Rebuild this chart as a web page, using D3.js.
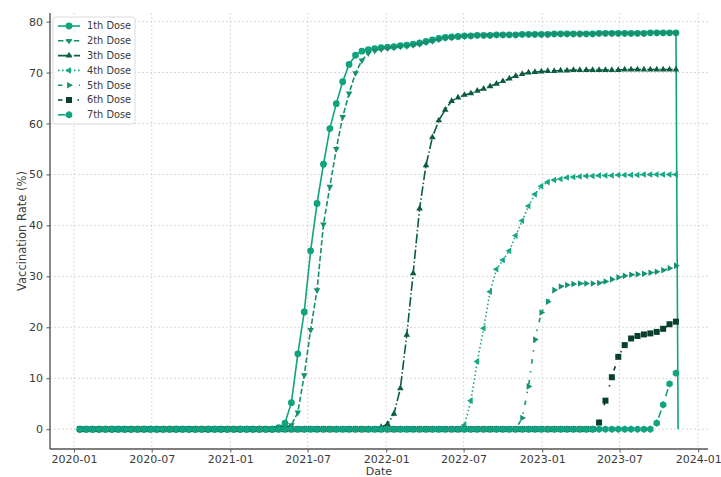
<!DOCTYPE html>
<html>
<head>
<meta charset="utf-8">
<script src="https://cdn.jsdelivr.net/npm/d3@7"></script>
<style>
  body { margin: 0; background: #fff; }
  svg { display: block; }
  text { font-family: "DejaVu Sans", sans-serif; }
</style>
</head>
<body>
<svg id="chart" width="721" height="477"></svg>
<script>
// Sampling: one observation every 15 days starting mid-January 2020
const firstDate = "2020-01-15";
const stepDays = 15;
// closing record where the 1st-dose column drops back to zero
const closeDate = "2023-11-15";
const closeValue = 0;

const seriesNames = ["1th Dose", "2th Dose", "3th Dose", "4th Dose", "5th Dose", "6th Dose", "7th Dose"];

const dose1 = [
  0,0,0,0,0,0,0,0,0,0, 0,0,0,0,0,0,0,0,0,0, 0,0,0,0,0,0,0,0,0,0, 0,
  0.3,1.2,5.2,14.8,23.0,35.0,44.3,52.0,59.0,63.9,
  68.2,71.6,73.4,74.2,74.5,74.7,74.9,75.0,75.1,75.3,
  75.4,75.6,75.8,76.1,76.4,76.7,76.9,77.0,77.1,77.2,
  77.2,77.3,77.3,77.3,77.4,77.4,77.4,77.4,77.5,77.5,
  77.5,77.5,77.5,77.6,77.6,77.6,77.6,77.6,77.6,77.6,
  77.7,77.7,77.7,77.7,77.7,77.7,77.7,77.7,77.8,77.8,77.8,77.8,77.8
];
const dose2 = [
  0,0,0,0,0,0,0,0,0,0, 0,0,0,0,0,0,0,0,0,0, 0,0,0,0,0,0,0,0,0,0, 0,0,
  0.3,0.8,3.3,10.6,19.5,27.3,40.2,47.6,55.0,61.3,
  65.9,69.9,72.4,73.8,74.3,74.6,74.8,74.9,75.1,75.2,
  75.4,75.6,75.9,76.2,76.5,76.8,76.9,77.0,77.1,77.2,
  77.3,77.3,77.3,77.4,77.4,77.4,77.4,77.5,77.5,
  77.5,77.5,77.5,77.6,77.6,77.6,77.6,77.6,77.6,77.6,
  77.7,77.7,77.7,77.7,77.7,77.7,77.7,77.7,77.8,77.8,77.8,77.8,77.8
];
const dose3 = [
  0,0,0,0,0,0,0,0,0,0, 0,0,0,0,0,0,0,0,0,0, 0,0,0,0,0,0,0,0,0,0,
  0,0,0,0,0,0,0,0,0,0, 0,0,0,0,0,0,0,
  0.4,1.0,3.0,8.0,18.5,30.6,43.3,51.8,57.3,60.6,
  62.7,64.4,65.1,65.6,65.9,66.4,66.8,67.3,67.8,68.3,
  68.8,69.3,69.7,70.0,70.1,70.2,
  70.3,70.3,70.4,70.4,70.5,70.5,70.5,70.5,70.5,70.5,70.5,
  70.5,70.6,70.6,70.6,70.6,70.6,70.6,70.6,70.6,70.6
];
const dose4 = [
  0,0,0,0,0,0,0,0,0,0, 0,0,0,0,0,0,0,0,0,0, 0,0,0,0,0,0,0,0,0,0,
  0,0,0,0,0,0,0,0,0,0, 0,0,0,0,0,0,0,0,0,0, 0,0,0,0,0,0,0,0,0,0,
  0.8,5.6,13.3,19.8,27.0,31.4,33.2,35.0,38.0,40.9,
  43.8,46.1,47.7,48.5,48.9,49.1,49.4,49.5,49.6,49.7,
  49.7,49.8,49.8,49.8,49.9,49.9,49.9,49.9,50.0,50.0,
  50.0,50.0,50.0,50.0
];
const dose5 = [
  0,0,0,0,0,0,0,0,0,0, 0,0,0,0,0,0,0,0,0,0, 0,0,0,0,0,0,0,0,0,0,
  0,0,0,0,0,0,0,0,0,0, 0,0,0,0,0,0,0,0,0,0, 0,0,0,0,0,0,0,0,0,0,
  0,0,0,0,0,0,0,0,0,
  2.2,8.4,17.6,22.9,25.0,27.3,28.0,28.3,28.5,28.6,
  28.6,28.6,28.7,29.0,29.4,29.8,30.1,30.3,30.4,30.5,
  30.7,30.9,31.2,31.6,32.1
];
const dose6 = [
  0,0,0,0,0,0,0,0,0,0, 0,0,0,0,0,0,0,0,0,0, 0,0,0,0,0,0,0,0,0,0,
  0,0,0,0,0,0,0,0,0,0, 0,0,0,0,0,0,0,0,0,0, 0,0,0,0,0,0,0,0,0,0,
  0,0,0,0,0,0,0,0,0,0, 0,0,0,0,0,0,0,0,0,0, 0,
  1.3,5.6,10.2,14.2,16.5,17.8,18.3,18.6,18.8,19.1,
  19.7,20.6,21.1
];
const dose7 = [
  0,0,0,0,0,0,0,0,0,0, 0,0,0,0,0,0,0,0,0,0, 0,0,0,0,0,0,0,0,0,0,
  0,0,0,0,0,0,0,0,0,0, 0,0,0,0,0,0,0,0,0,0, 0,0,0,0,0,0,0,0,0,0,
  0,0,0,0,0,0,0,0,0,0, 0,0,0,0,0,0,0,0,0,0, 0,0,0,0,0,0,0,0,0,0,
  1.2,4.8,8.9,11.0
];

const yTicks = [0, 10, 20, 30, 40, 50, 60, 70, 80];
const xTickLabels = ["2020-01","2020-07","2021-01","2021-07","2022-01","2022-07","2023-01","2023-07","2024-01"];

// ---- styling ----
const colors = ["#10a37f", "#17906f", "#0c5b44", "#14a884", "#139274", "#083f2f", "#10a37f"];
const dashes = [null, "5.5,2.4", "9.6,2.4,1.5,2.4", "1.5,2.5", "4.5,7.5,1.5,7.5", "4.5,15,1.5,15", "7.5,15"];
const markerKinds = ["circle", "down", "up", "left", "right", "square", "hexagon"];

const W = 721, H = 477;
const plot = { left: 50, right: 708, top: 13, bottom: 449 };

const parse = d3.utcParse("%Y-%m-%d");
const start = parse(firstDate);
const dates = dose1.map((_, i) => d3.utcDay.offset(start, stepDays * i));
const closeD = parse(closeDate);

const allSeries = [dose1, dose2, dose3, dose4, dose5, dose6, dose7];

// 5% margins around the data extent
const tMin = +dates[0], tMax = +closeD;
const tPad = (tMax - tMin) * 0.05;
const x = d3.scaleUtc().domain([new Date(tMin - tPad), new Date(tMax + tPad)]).range([plot.left, plot.right]);
const vMax = d3.max(allSeries, s => d3.max(s));
const vPad = vMax * 0.05;
const y = d3.scaleLinear().domain([-vPad, vMax + vPad]).range([plot.bottom, plot.top]);

const svg = d3.select("#chart");
svg.append("rect").attr("width", W).attr("height", H).attr("fill", "#fff");

const xTickDates = xTickLabels.map(s => parse(s + "-01"));

// grid
const grid = svg.append("g").attr("stroke", "#d6d6d6").attr("stroke-width", 0.9).attr("stroke-dasharray", "2,2");
grid.selectAll("line.gx").data(xTickDates).join("line")
  .attr("x1", d => x(d)).attr("x2", d => x(d))
  .attr("y1", plot.top).attr("y2", plot.bottom);
grid.selectAll("line.gy").data(yTicks).join("line")
  .attr("x1", plot.left).attr("x2", plot.right)
  .attr("y1", d => y(d)).attr("y2", d => y(d));

// axes
const fmt = d3.utcFormat("%Y-%m");
const xAxis = d3.axisBottom(x).tickValues(xTickDates).tickFormat(fmt).tickSize(3.5).tickPadding(3);
const yAxis = d3.axisLeft(y).tickValues(yTicks).tickFormat(d3.format("d")).tickSize(3.5).tickPadding(3.5);

const gx = svg.append("g").attr("transform", `translate(0,${plot.bottom})`).call(xAxis);
const gy = svg.append("g").attr("transform", `translate(${plot.left},0)`).call(yAxis);
gx.select(".domain").attr("d", `M${plot.left},0H${plot.right}`);
gy.select(".domain").attr("d", `M0,${plot.top}V${plot.bottom}`);
[gx, gy].forEach(g => {
  g.select(".domain").attr("stroke", "#555").attr("stroke-width", 1.4);
  g.selectAll(".tick line").attr("stroke", "#555").attr("stroke-width", 1);
  g.selectAll(".tick text").attr("fill", "#3a3a3a").attr("font-size", 11)
    .attr("font-family", "DejaVu Sans, sans-serif");
});

svg.append("text").attr("x", (plot.left + plot.right) / 2).attr("y", 475)
  .attr("text-anchor", "middle").attr("font-size", 11).attr("fill", "#3a3a3a").text("Date");
svg.append("text").attr("transform", `translate(26,${(plot.top + plot.bottom) / 2}) rotate(-90)`)
  .attr("text-anchor", "middle").attr("font-size", 11.5).attr("fill", "#3a3a3a").text("Vaccination Rate (%)");

// marker shapes
function markerPath(kind) {
  const r = 3.8;
  switch (kind) {
    case "circle": return d3.symbol(d3.symbolCircle, Math.PI * 3.4 * 3.4)();
    case "square": return "M-3,-3H3V3H-3Z";
    case "up": return `M0,${-r}L${r * 0.87},${r * 0.5}L${-r * 0.87},${r * 0.5}Z`;
    case "down": return `M0,${r}L${r * 0.87},${-r * 0.5}L${-r * 0.87},${-r * 0.5}Z`;
    case "left": return `M${-r},0L${r * 0.5},${-r * 0.87}L${r * 0.5},${r * 0.87}Z`;
    case "right": return `M${r},0L${-r * 0.5},${-r * 0.87}L${-r * 0.5},${r * 0.87}Z`;
    case "hexagon": {
      const p = d3.range(6).map(k => {
        const a = Math.PI / 6 + k * Math.PI / 3;
        return [3.7 * Math.cos(a), 3.7 * Math.sin(a)];
      });
      return "M" + p.map(q => q.join(",")).join("L") + "Z";
    }
  }
}

const line = d3.line().x(d => x(d.date)).y(d => y(d.value));

allSeries.forEach((vals, si) => {
  const pts = vals.map((v, i) => ({ date: dates[i], value: v }));
  const linePts = si === 0 ? pts.concat([{ date: closeD, value: closeValue }]) : pts;
  const g = svg.append("g");
  g.append("path").attr("d", line(linePts)).attr("fill", "none")
    .attr("stroke", colors[si]).attr("stroke-width", 1.6)
    .attr("stroke-dasharray", dashes[si]);
  g.selectAll("path.m").data(pts).join("path").attr("class", "m")
    .attr("transform", d => `translate(${x(d.date)},${y(d.value)})`)
    .attr("d", markerPath(markerKinds[si]))
    .attr("fill", colors[si]);
});

// legend
const lg = svg.append("g").attr("transform", "translate(53,17)");
lg.append("rect").attr("width", 82).attr("height", 107).attr("rx", 2.5)
  .attr("fill", "#fff").attr("fill-opacity", 0.8).attr("stroke", "#d0d0d0").attr("stroke-width", 0.8);
seriesNames.forEach((name, si) => {
  const cy = 9 + si * 14.8;
  lg.append("line").attr("x1", 5).attr("x2", 27).attr("y1", cy).attr("y2", cy)
    .attr("stroke", colors[si]).attr("stroke-width", 1.6).attr("stroke-dasharray", dashes[si]);
  lg.append("path").attr("transform", `translate(16,${cy})`).attr("d", markerPath(markerKinds[si]))
    .attr("fill", colors[si]);
  lg.append("text").attr("x", 34).attr("y", cy + 3.4).attr("font-size", 9.8)
    .attr("fill", "#3a3a3a").text(name);
});
</script>
</body>
</html>
